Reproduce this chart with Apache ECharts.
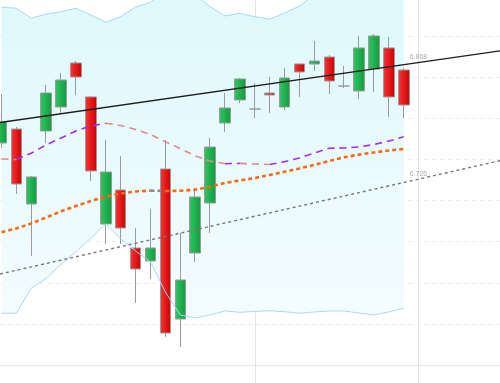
<!DOCTYPE html>
<html><head><meta charset="utf-8">
<script src="https://cdn.jsdelivr.net/npm/echarts@6/dist/echarts.min.js"></script>
<style>html,body{margin:0;padding:0;background:#fff}#c{width:500px;height:383px}</style>
</head><body><div id="c"></div>
<script>
// ---- data (candle index is the x value) ----
const openV  = [6.7700, 6.7870, 6.6958, 6.7846, 6.8138, 6.8673, 6.8260, 6.6715, 6.7128, 6.6423, 6.6265, 6.7384, 6.5559, 6.6362, 6.6970, 6.7943, 6.8223, 6.8114, 6.8308, 6.8138, 6.8661, 6.8661, 6.8746, 6.8393, 6.8333, 6.8600, 6.8856, 6.8588];
const closeV = [6.7956, 6.7201, 6.7287, 6.8308, 6.8466, 6.8503, 6.7360, 6.7347, 6.6666, 6.6168, 6.6423, 6.5389, 6.6034, 6.7043, 6.7651, 6.8126, 6.8479, 6.8114, 6.8284, 6.8491, 6.8564, 6.8697, 6.8454, 6.8393, 6.8856, 6.9001, 6.8260, 6.8162];
const lowV   = [6.7639, 6.7080, 6.6326, 6.7700, 6.8065, 6.8284, 6.7238, 6.6472, 6.6472, 6.5754, 6.6046, 6.5341, 6.5219, 6.6253, 6.6605, 6.7834, 6.8187, 6.8004, 6.8065, 6.8101, 6.8260, 6.8576, 6.8296, 6.8369, 6.8235, 6.8320, 6.8016, 6.8004];
const highV  = [6.8296, 6.7895, 6.7299, 6.8406, 6.8551, 6.8697, 6.8272, 6.7737, 6.7542, 6.6666, 6.6897, 6.7737, 6.6605, 6.7153, 6.7761, 6.8308, 6.8491, 6.8430, 6.8503, 6.8612, 6.8667, 6.8941, 6.8770, 6.8637, 6.9001, 6.9026, 6.8989, 6.8612];
const bandUpper = [6.9351, 6.9340, 6.9217, 6.9269, 6.9297, 6.9338, 6.9257, 6.9168, 6.9236, 6.9354, 6.9409, 6.9560, 6.9620, 6.9500, 6.9358, 6.9245, 6.9278, 6.9236, 6.9205, 6.9281, 6.9366, 6.9500, 6.9620, 6.9680, 6.9740, 6.9800, 6.9800, 6.9800];
const bandLower = [6.5629, 6.5629, 6.5937, 6.6052, 6.6228, 6.6374, 6.6545, 6.6715, 6.6532, 6.6387, 6.6253, 6.5888, 6.5608, 6.5572, 6.5608, 6.5657, 6.5641, 6.5651, 6.5660, 6.5648, 6.5629, 6.5645, 6.5657, 6.5657, 6.5632, 6.5608, 6.5645, 6.5690];
const maFast = [6.7505, 6.7499, 6.7576, 6.7676, 6.7761, 6.7846, 6.7907, 6.7940, 6.7913, 6.7864, 6.7803, 6.7716, 6.7633, 6.7542, 6.7481, 6.7448, 6.7452, 6.7445, 6.7439, 6.7473, 6.7518, 6.7578, 6.7636, 6.7639, 6.7651, 6.7682, 6.7724, 6.7777];
const maSlow = [6.6614, 6.6661, 6.6722, 6.6794, 6.6869, 6.6934, 6.6995, 6.7046, 6.7086, 6.7110, 6.7121, 6.7116, 6.7119, 6.7131, 6.7169, 6.7214, 6.7244, 6.7274, 6.7311, 6.7351, 6.7390, 6.7435, 6.7481, 6.7526, 6.7559, 6.7585, 6.7609, 6.7627];
const trendUpper = [[-0.1, 6.7949], [33.46, 6.8821]];
const trendLower = [[-0.1, 6.6107], [33.46, 6.7485]];
const levelLabels = ['6.868', '6.726'];
const labelX = 27.4;
const dividers = [17, 28];

// ---- build ----
const G = echarts.graphic.LinearGradient;
const candles = openV.map((o, i) => [i, o, closeV[i], lowV[i], highV[i]]);
const upperPts = bandUpper.map((v, i) => [i, v]);
const lowerPts = bandLower.map((v, i) => [i, v]);

function runs(vals) {
  const out = []; let cur = null;
  for (let i = 0; i < vals.length - 1; i++) {
    const up = vals[i + 1] >= vals[i];
    if (!cur || cur.up !== up) { cur = { up, pts: [[i, vals[i]]] }; out.push(cur); }
    cur.pts.push([i + 1, vals[i + 1]]);
  }
  return out;
}
function dirSeries(vals, upColor, downColor, width, dash) {
  return runs(vals).map(r => ({
    type: 'line', data: r.pts, symbol: 'none', silent: true, z: 4,
    lineStyle: { color: r.up ? upColor : downColor, width: width, type: dash }
  }));
}

const series = [
  { type: 'custom', clip: true, silent: true, z: 1, data: [[0, bandLower[0]]],
    renderItem: function (params, api) {
      const pts = upperPts.map(p => api.coord(p)).concat(lowerPts.slice().reverse().map(p => api.coord(p)));
      return { type: 'polygon', shape: { points: pts },
        style: { fill: new G(0, 0, 0, 1, [{ offset: 0, color: '#dcf8fc' }, { offset: 1, color: '#f4fcff' }]) } };
    },
    markLine: { silent: true, symbol: ['none', 'none'], z: 1, label: { show: false },
      lineStyle: { type: 'solid', color: '#e4e4e4', width: 1 },
      data: dividers.map(d => ({ xAxis: d })) } },
  { type: 'candlestick', data: candles, barWidth: 11, silent: true, z: 2,
    itemStyle: {
      color: new G(0, 0, 1, 0, [{ offset: 0, color: '#30c862' }, { offset: 1, color: '#129a3c' }]),
      color0: new G(0, 0, 1, 0, [{ offset: 0, color: '#ff3535' }, { offset: 1, color: '#c80000' }]),
      borderColor: '#9a9a9a', borderColor0: '#9a9a9a', borderColorDoji: '#9a9a9a', borderWidth: 1
    } },
  { type: 'line', data: upperPts, symbol: 'none', silent: true, z: 3, lineStyle: { color: '#a9d9f6', width: 1 } },
  { type: 'line', data: lowerPts, symbol: 'none', silent: true, z: 3, lineStyle: { color: '#a9d9f6', width: 1 } },
  ...dirSeries(maFast, '#a32cf5', '#e58a8a', 1.6, [7, 5]),
  ...dirSeries(maSlow, '#f76a12', '#8a8a8a', 2.6, [4, 3]),
  { type: 'line', data: trendUpper, symbol: 'none', silent: true, z: 5, lineStyle: { color: '#1e1e1e', width: 1.4 } },
  { type: 'line', data: trendLower, symbol: 'none', silent: true, z: 5, lineStyle: { color: '#777', width: 1.4, type: [3, 3] } },
  { type: 'scatter', symbolSize: 0, silent: true, z: 6,
    data: levelLabels.map(t => [labelX, parseFloat(t)]),
    label: { show: true, position: 'right', distance: 0, offset: [0, -5],
      formatter: p => p.value[1].toFixed(3), color: '#999', fontSize: 7, fontFamily: 'Liberation Sans' } }
];

const chart = echarts.init(document.getElementById('c'), null, { renderer: 'canvas' });
chart.setOption({
  animation: false,
  backgroundColor: '#fff',
  grid: { left: 0, width: 500, top: -5, height: 411.1, outerBoundsMode: 'none', containLabel: false },
  xAxis: { type: 'value', min: -0.1, max: 33.46, offset: -41.1,
    axisLine: { show: true, lineStyle: { color: '#e6e6e6' } }, axisTick: { show: false },
    axisLabel: { show: false }, splitLine: { show: false } },
  yAxis: { type: 'value', min: 6.45, max: 6.95, interval: 0.05,
    axisLine: { show: false }, axisTick: { show: false }, axisLabel: { show: false },
    splitLine: { show: true, lineStyle: { color: '#ededed', type: [4, 4] } } },
  series: series
});
</script>
</body></html>
